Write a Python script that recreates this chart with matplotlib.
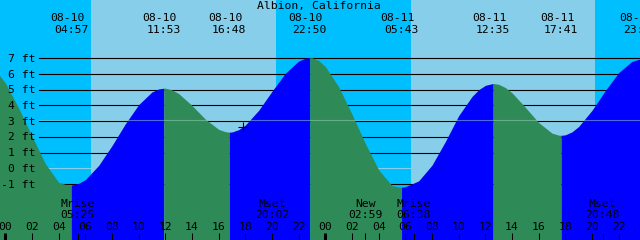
import numpy as np
import matplotlib
matplotlib.use('Agg')
import matplotlib.pyplot as plt

# czas w godzinach od 08-10 00:00, wysokosc w stopach
hour_times = list(range(-1, 48))
hour_heights = [6.52, 5.44, 3.84, 2.04, 0.30, -0.90, -1.06, -0.72, 0.18, 1.44, 2.83, 4.05, 4.86,
                5.10, 4.76, 4.00, 3.13, 2.48, 2.31, 2.75, 3.69, 4.90, 6.05, 6.83,
                7.04, 6.48, 5.19, 3.44, 1.58, -0.10, -1.10, -1.17, -0.80, 0.20, 1.70, 3.35, 4.57, 5.28,
                5.35, 4.81, 3.88, 2.91, 2.24, 2.13, 2.66, 3.69, 4.95, 6.09, 6.81]

# dodatkowe odczyty przy szczytach i dolkach
half_times = [4.5, 5.5, 11.5, 12.5, 16.5, 17.5, 22.5, 23.5, 29.5, 30.5, 35.5, 37.5, 41.5, 42.5, 47.5]
half_heights = [-1.02, -0.96, 5.05, 4.99, 2.33, 2.46, 7.01, 6.86, -1.19, -0.99, 5.0, 5.14, 2.11, 2.32, 6.93]

# przyplywy / odplywy
ext_times = [-1.9, 4.95, 11.883, 16.8, 22.833, 29.717, 36.583, 41.683, 47.65]
ext_heights = [6.85, -1.06, 5.1, 2.3, 7.05, -1.2, 5.4, 2.1, 6.95]
ext_dates = ['', '08-10', '08-10', '08-10', '08-10', '08-11', '08-11', '08-11', '08-11']
ext_clock = ['', '04:57', '11:53', '16:48', '22:50', '05:43', '12:35', '17:41', '23:39']

sunrise = [6.43, 30.43]
sunset = [20.31, 44.24]

moon_times = [5.417, 20.033, 26.983, 30.633, 44.8]
moon_names = ['Mrise', 'Mset', 'New', 'Mrise', 'Mset']
moon_clock = ['05:25', '20:02', '02:59', '06:38', '20:48']

feet = list(range(-1, 8))
msl = 3.05
now_t, now_h = 17.85, 2.62

night_col = '#00bfff'
day_col = '#87ceeb'
rise_col = '#0000ff'
fall_col = '#2e8b57'

plt.rcParams['font.family'] = 'DejaVu Sans Mono'
plt.rcParams['font.size'] = 8.2

fig = plt.figure(figsize=(6.4, 2.4), dpi=100)
ax = fig.add_axes([0, 0, 1, 1])
ax.set_xlim(-0.3975, 47.6)
ax.set_ylim(-4.564, 10.713)
ax.axis('off')
xt = ax.get_xaxis_transform()

# niebo: noc / dzien
ax.axvspan(-5, 60, color=night_col, lw=0, zorder=0)
for a, b in zip(sunrise, sunset):
    ax.axvspan(a, b, color=day_col, lw=0, zorder=0)

# linie poziomow
for f in feet:
    col = day_col if f == 0 else 'black'
    ax.axhline(f, xmin=39 / 640, xmax=1, color=col, lw=0.8, zorder=1)
    ax.annotate(f'{f} ft', (35 / 640, f), xycoords=ax.get_yaxis_transform(),
                xytext=(0, -3.5), textcoords='offset pixels', ha='right', va='baseline')

# woda
t = np.array(hour_times + half_times + ext_times, dtype=float)
h = np.array(hour_heights + half_heights + ext_heights, dtype=float)
order = np.argsort(t)
t, h = t[order], h[order]
for a, b in zip(ext_times[:-1], ext_times[1:]):
    m = (t >= a) & (t <= b)
    col = rise_col if h[m][-1] > h[m][0] else fall_col
    ax.fill_between(t[m], h[m], -5, color=col, lw=0, antialiased=False, zorder=2)

ax.axhline(msl, xmin=39 / 640, xmax=1, color='#a0d0c0', alpha=0.5, lw=0.8, zorder=3)
ax.plot([now_t], [now_h], marker='+', color='black', ms=6.5, mew=0.8, zorder=4)

# napisy u gory
ax.text(0.499, 1 - 9 / 240, 'Albion, California', transform=ax.transAxes,
        ha='center', va='baseline')
for tt, d, c in zip(ext_times, ext_dates, ext_clock):
    if not d:
        continue
    ax.annotate(d, (tt, 1 - 21 / 240), xycoords=xt, xytext=(-4, 0),
                textcoords='offset pixels', ha='center', va='baseline')
    ax.text(tt, 1 - 33.3 / 240, c, transform=xt, ha='center', va='baseline')

# os czasu na dole
hours = list(range(0, 49, 2))
for hr in hours:
    ax.text(hr, 1 - 230 / 240, f'{hr % 24:02d}', transform=xt, ha='center', va='baseline', zorder=5)
    w = 2.2 if hr % 24 == 0 else 0.75
    ax.vlines(hr, 0, 7.5 / 240, transform=xt, color='black', lw=w, zorder=5)
for mt, n, c in zip(moon_times, moon_names, moon_clock):
    ax.text(mt, 1 - 206.7 / 240, n, transform=xt, ha='center', va='baseline', zorder=5)
    ax.text(mt, 1 - 218.3 / 240, c, transform=xt, ha='center', va='baseline', zorder=5)
    ax.vlines(mt, 0, 7.5 / 240, transform=xt, color='black', lw=0.75, zorder=5)

fig.savefig('out.png', dpi=100)
